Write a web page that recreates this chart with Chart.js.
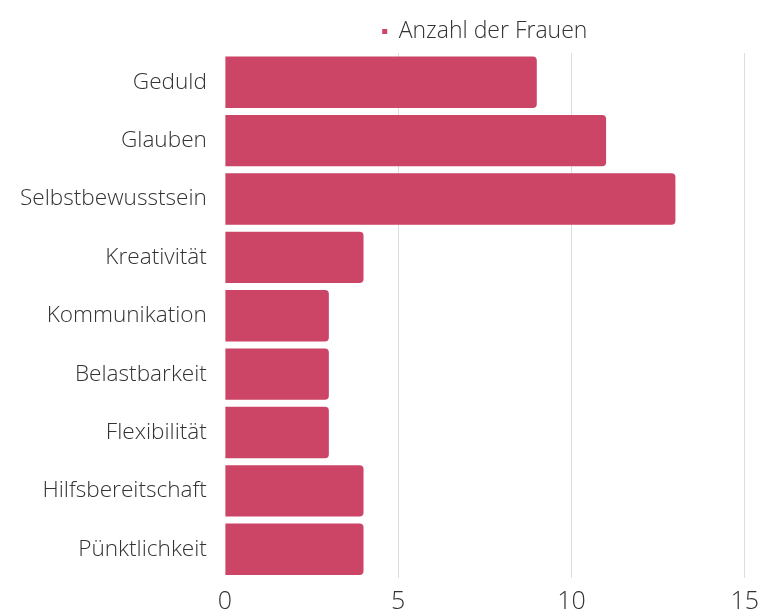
<!DOCTYPE html>
<html>
<head>
<meta charset="utf-8">
<script src="https://cdn.jsdelivr.net/npm/chart.js@4"></script>
<style>
  html, body { margin: 0; padding: 0; background: #fff; }
  #wrap { width: 767px; height: 610px; position: relative; }
</style>
</head>
<body>
<div id="wrap"><canvas id="womenChart"></canvas></div>
<script>
const categories = ['Geduld', 'Glauben', 'Selbstbewusstsein', 'Kreativität', 'Kommunikation', 'Belastbarkeit', 'Flexibilität', 'Hilfsbereitschaft', 'Pünktlichkeit'];
const womenCount = [9, 11, 13, 4, 3, 3, 3, 4, 4];
const xTicks = [0, 5, 10, 15];

Chart.defaults.font.family = "'Open Sans', sans-serif";
Chart.defaults.font.weight = '300';
Chart.defaults.color = '#333';

// center the legend above the plot area instead of the whole canvas
const legendOverArea = {
    id: 'legendOverArea',
    afterLayout(chart) {
        const lg = chart.legend;
        if (!lg) return;
        lg.left = chart.chartArea.left;
        lg.right = chart.chartArea.right;
        lg.width = lg.right - lg.left;
    }
};

const ctx = document.getElementById('womenChart');

new Chart(ctx, {
    type: 'bar',
    data: {
        labels: categories,
        datasets: [{
            label: 'Anzahl der Frauen',
            data: womenCount,
            backgroundColor: '#cc4466',
            borderWidth: 0,
            borderRadius: { topRight: 4, bottomRight: 4 },
            borderSkipped: false,
            barPercentage: 0.88,
            categoryPercentage: 1
        }]
    },
    options: {
        responsive: true,
        maintainAspectRatio: false,
        animation: false,
        indexAxis: 'y',
        layout: {
            padding: { left: 2, right: 0, top: 14, bottom: -21 }
        },
        plugins: {
            legend: {
                display: true,
                labels: {
                    boxWidth: 5,
                    boxHeight: 5,
                    padding: 6,
                    font: { size: 23, weight: '300' },
                    color: '#333'
                }
            },
            tooltip: { enabled: false }
        },
        scales: {
            x: {
                min: 0,
                max: 15,
                afterBuildTicks(axis) {
                    axis.ticks = xTicks.map(v => ({ value: v }));
                },
                grid: {
                    color: (c) => c.tick && c.tick.value === 0 ? 'rgba(0,0,0,0)' : '#dddddd',
                    drawTicks: false
                },
                border: { display: false },
                ticks: {
                    padding: 8,
                    font: { size: 25, weight: '300' },
                    color: '#333'
                }
            },
            y: {
                grid: { display: false, drawTicks: false },
                border: { display: false },
                ticks: {
                    padding: 18,
                    font: { size: 22.6, weight: '300' },
                    color: '#333'
                }
            }
        }
    },
    plugins: [legendOverArea]
});
</script>
</body>
</html>
